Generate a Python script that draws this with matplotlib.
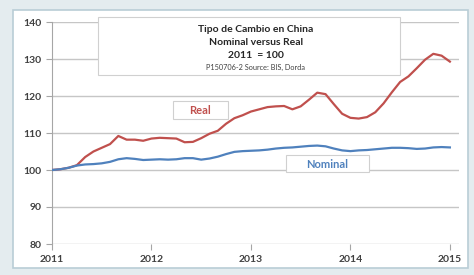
import matplotlib.pyplot as plt
from matplotlib.patches import Rectangle
import numpy as np

plt.rcParams['font.family'] = ['Lato', 'DejaVu Sans']

# tipo de cambio mensual, ene 2011 = 100
real = [100, 100.2, 100.6, 101.3, 103.5, 105.0, 106.0, 107.0, 109.2, 108.2,
        108.2, 107.9, 108.5, 108.7, 108.6, 108.5, 107.5, 107.6, 108.6, 109.8,
        110.6, 112.5, 114.0, 114.8, 115.8, 116.4, 117.0, 117.2, 117.3, 116.4,
        117.2, 119.0, 120.9, 120.5, 117.8, 115.2, 114.1, 113.9, 114.3, 115.6,
        118.0, 121.0, 123.8, 125.3, 127.5, 129.8, 131.4, 130.9, 129.3]
nominal = [100, 100.2, 100.6, 101.2, 101.5, 101.6, 101.8, 102.2, 102.9, 103.2,
           103.0, 102.7, 102.8, 102.9, 102.8, 102.9, 103.2, 103.2, 102.8, 103.1,
           103.6, 104.3, 104.9, 105.1, 105.2, 105.3, 105.5, 105.8, 106.0, 106.1,
           106.3, 106.5, 106.6, 106.4, 105.8, 105.3, 105.1, 105.3, 105.4, 105.6,
           105.8, 106.0, 106.0, 105.9, 105.7, 105.8, 106.1, 106.2, 106.1]
years = ['2011', '2012', '2013', '2014', '2015']
yticks = [80, 90, 100, 110, 120, 130, 140]

meses = np.arange(len(real))

W, H = 474, 275
fig = plt.figure(figsize=(W / 100, H / 100), dpi=100)
fig.patch.set_facecolor('#e4ecef')

def fx(px):
    return px / W

def fy(py):
    return 1 - py / H

# panel interior
fig.patches.append(Rectangle((fx(13), fy(268)), fx(455), 258 / H, transform=fig.transFigure,
                             facecolor='white', edgecolor='#b9cdd6', linewidth=1.2, zorder=-5))

ax = fig.add_axes([fx(52), fy(244), fx(407), 222 / H])
ax.set_facecolor('none')

ax.plot(meses, real, color='#c0504d', linewidth=1.6, zorder=3)
ax.plot(meses, nominal, color='#4f81bd', linewidth=1.6, zorder=3)

ax.set_ylim(80, 140)
ax.set_xlim(0, 49.1)
ax.set_yticks(yticks)
ax.set_xticks(np.arange(len(years)) * 12)
ax.set_xticklabels(years)
ax.grid(axis='y', color='#c6c6c6', linewidth=1)
ax.set_axisbelow(True)
for s in ['top', 'right']:
    ax.spines[s].set_visible(False)
for s in ['left', 'bottom']:
    ax.spines[s].set_color('#a6a6a6')
ax.spines['bottom'].set_visible(False)
ax.tick_params(axis='both', colors='#a6a6a6', labelcolor='#404040', labelsize=7.5, length=4, width=0.8)
ax.tick_params(axis='x', pad=4)
for lab in ax.get_xticklabels() + ax.get_yticklabels():
    lab.set_fontweight('bold')

# caja del titulo
fig.patches.append(Rectangle((fx(98), fy(75)), fx(302), 58 / H, transform=fig.transFigure,
                             facecolor='white', edgecolor='#d0d0d0', linewidth=0.8, zorder=5))
fig.text(fx(256), fy(29), 'Tipo de Cambio en China', ha='center', va='center', fontsize=7.5, fontweight='bold', color='#262626', zorder=6)
fig.text(fx(256), fy(42.5), 'Nominal versus Real', ha='center', va='center', fontsize=7.5, fontweight='bold', color='#262626', zorder=6)
fig.text(fx(256), fy(55), '2011  = 100', ha='center', va='center', fontsize=7.5, fontweight='bold', color='#262626', zorder=6)
fig.text(fx(256), fy(67), 'P150706-2 Source: BIS, Dorda', ha='center', va='center', fontsize=5.3, color='#404040', zorder=6)

# etiquetas de series
fig.patches.append(Rectangle((fx(173), fy(119)), fx(55), 18 / H, transform=fig.transFigure,
                             facecolor='white', edgecolor='#d0d0d0', linewidth=0.8, zorder=5))
fig.text(fx(200), fy(110), 'Real', ha='center', va='center', fontsize=8, fontweight='bold', color='#c0504d', zorder=6)
fig.patches.append(Rectangle((fx(286), fy(172)), fx(83), 17 / H, transform=fig.transFigure,
                             facecolor='white', edgecolor='#d0d0d0', linewidth=0.8, zorder=5))
fig.text(fx(327), fy(164), 'Nominal', ha='center', va='center', fontsize=8, fontweight='bold', color='#4f81bd', zorder=6)

plt.savefig('out.png', dpi=100, facecolor=fig.get_facecolor())
